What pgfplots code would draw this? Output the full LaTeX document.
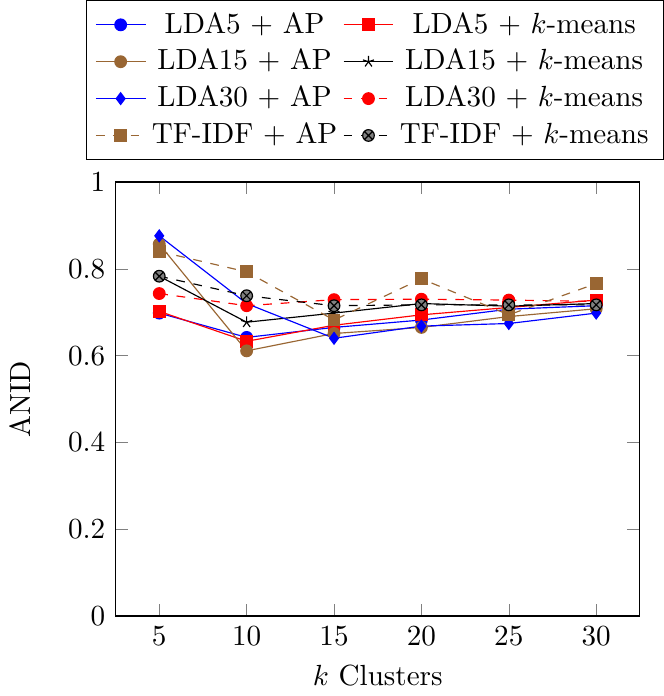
\documentclass[border=0pt]{standalone}
\usepackage{pgfplots}
\pgfplotsset{compat=1.18}
\colorlet{mybrown}{brown!80!black}
\begin{document}
\begin{tikzpicture}
\begin{axis}[
scale only axis,
width=180pt, height=149pt,
xmin=2.5, xmax=32.5,
ymin=0, ymax=1,
xtick={5,10,15,20,25,30},
ytick={0,0.2,0.4,0.6,0.8,1},
xlabel={$k$ Clusters},
ylabel={ANID},
ylabel shift=6pt,
legend columns=2,
legend cell align=center,
legend style={at={(0.5,1.05)}, anchor=south, xshift=-1pt},
]
\addplot [blue, mark=*, mark options={fill=blue}] coordinates {
(5,0.698) (10,0.642) (15,0.665) (20,0.682) (25,0.707) (30,0.715)};
\addlegendentry{LDA5 $+$ AP}
\addplot [red, mark=square*, mark options={fill=red}] coordinates {
(5,0.702) (10,0.633) (15,0.670) (20,0.694) (25,0.711) (30,0.728)};
\addlegendentry{LDA5 $+$ $k$-means}
\addplot [mybrown, mark=otimes*, mark options={fill=mybrown}] coordinates {
(5,0.857) (10,0.611) (15,0.651) (20,0.665) (25,0.690) (30,0.708)};
\addlegendentry{LDA15 $+$ AP}
\addplot [black, mark=star] coordinates {
(5,0.783) (10,0.677) (15,0.698) (20,0.720) (25,0.714) (30,0.720)};
\addlegendentry{LDA15 $+$ $k$-means}
\addplot [blue, mark=diamond*, mark options={fill=blue}] coordinates {
(5,0.876) (10,0.720) (15,0.640) (20,0.668) (25,0.674) (30,0.698)};
\addlegendentry{LDA30 $+$ AP}
\addplot [red, dashed, mark=*, mark options={solid, fill=red}] coordinates {
(5,0.743) (10,0.715) (15,0.729) (20,0.730) (25,0.728) (30,0.725)};
\addlegendentry{LDA30 $+$ $k$-means}
\addplot [mybrown, dashed, mark=square*, mark options={solid, fill=mybrown}] coordinates {
(5,0.840) (10,0.793) (15,0.682) (20,0.777) (25,0.694) (30,0.766)};
\addlegendentry{TF-IDF $+$ AP}
\addplot [black, dashed, mark=otimes*, mark options={solid, fill=gray}] coordinates {
(5,0.783) (10,0.738) (15,0.715) (20,0.717) (25,0.717) (30,0.717)};
\addlegendentry{TF-IDF $+$ $k$-means}
\end{axis}
\end{tikzpicture}
\end{document}
